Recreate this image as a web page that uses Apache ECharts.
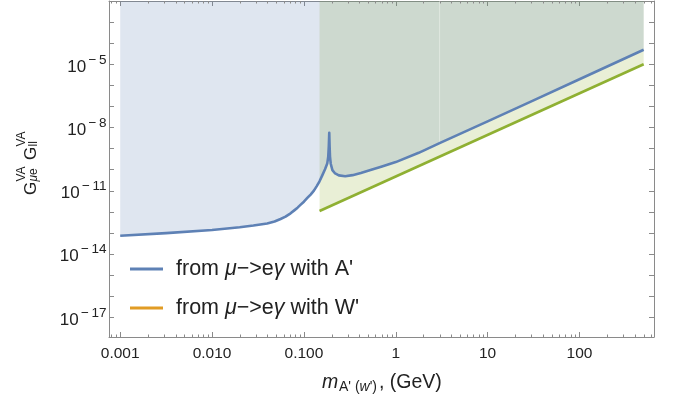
<!DOCTYPE html>
<html><head><meta charset="utf-8">
<script src="https://cdn.jsdelivr.net/npm/echarts@6/dist/echarts.min.js"></script>
<style>html,body{margin:0;padding:0;background:#fff}#c{width:673px;height:402px}</style>
</head><body><div id="c"></div>
<script>
// ---- data ----
const aMass = [0.001, 0.00316, 0.01, 0.02, 0.0282, 0.0398, 0.0479, 0.0557, 0.0631, 0.0716, 0.0785, 0.0853, 0.0923, 0.1, 0.1096, 0.1183, 0.1285, 0.138, 0.1479, 0.1585, 0.1698, 0.1795, 0.1841, 0.1866, 0.1888, 0.1905, 0.1923, 0.1959, 0.2042, 0.2188, 0.2399, 0.2818, 0.3388, 0.4169, 0.5309, 0.7079, 1, 1.778, 3.0, 10, 31.62, 100, 500];
const aCoupling = [7.41e-14, 9.77e-14, 1.38e-13, 1.86e-13, 2.24e-13, 2.82e-13, 3.47e-13, 4.57e-13, 5.89e-13, 8.51e-13, 1.175e-12, 1.585e-12, 2.19e-12, 3.02e-12, 4.68e-12, 6.61e-12, 1.02e-11, 1.66e-11, 2.82e-11, 5.37e-11, 1.05e-10, 1.95e-10, 4.17e-10, 1.26e-9, 5.62e-9, 1.26e-9, 4.17e-10, 1.91e-10, 9.55e-11, 6.61e-11, 5.37e-11, 4.90e-11, 5.50e-11, 6.92e-11, 9.55e-11, 1.41e-10, 2.29e-10, 6.31e-10, 1.82e-9, 1.95e-8, 1.95e-7, 1.95e-6, 4.9e-5];
const aFillSplitMass = 3.0; // the filled region of the reference shows a faint seam here
const wMass = [0.148, 500];
const wCoupling = [1.1e-12, 1.0e-5];
const seriesNames = ["from μ−>eγ with A'", "from μ−>eγ with W'"];
const xMajorTicks = [0.001, 0.01, 0.1, 1, 10, 100];
const xTickLabels = ['0.001', '0.010', '0.100', '1', '10', '100'];
const xMinorMantissa = [2, 3, 4, 5, 6, 7, 8, 9];
const xMinorDecades = [0.0001, 0.001, 0.01, 0.1, 1, 10, 100];
const yTicks = [1e-17, 1e-16, 1e-15, 1e-14, 1e-13, 1e-12, 1e-11, 1e-10, 1e-9, 1e-8, 1e-7, 1e-6, 1e-5, 1e-4, 1e-3];
const yLabelValues = [1e-17, 1e-14, 1e-11, 1e-8, 1e-5];
const yLabelExponents = ['17', '14', '11', '8', '5'];
const xRange = [0.000755, 648];
const yRange = [1.16e-18, 1e-2];

// ---- style ----
const FONT = 'Liberation Sans';
const frameColor = '#8a8a8a';
const textColor = '#222';
const blueLine = '#5e81b5';
const greenLine = '#8fb032';
const orangeLegend = '#e19c24';
const blueFill = 'rgba(94,129,181,0.2)';
const greenFill = 'rgba(143,176,50,0.2)';

const xMinorTicks = [];
xMinorDecades.forEach(d => xMinorMantissa.forEach(m => {
  const v = d * m;
  if (v > xRange[0] && v < xRange[1]) xMinorTicks.push(v);
}));

function near(a, b) { return Math.abs(Math.log10(a) - Math.log10(b)) < 1e-6; }

const lineCommon = { show: true, onZero: false, lineStyle: { color: frameColor, width: 1 } };
const tickCommon = { show: true, inside: true, length: 5, lineStyle: { color: frameColor, width: 1 } };

const chart = echarts.init(document.getElementById('c'), null, { renderer: 'canvas' });

function fillPolygon(api, ms, cs, fill) {
  const pts = ms.map((m, i) => api.coord([m, cs[i]]));
  pts.push(api.coord([ms[ms.length - 1], yRange[1]]));
  pts.push(api.coord([ms[0], yRange[1]]));
  return { type: 'polygon', shape: { points: pts }, style: { fill: fill } };
}

const option = {
  animation: false,
  backgroundColor: '#fff',
  grid: { left: 109, right: 19, top: 1, bottom: 65, containLabel: false },
  xAxis: [
    {
      type: 'log', logBase: 10, position: 'bottom', min: xRange[0], max: xRange[1],
      axisLine: lineCommon,
      axisTick: Object.assign({ customValues: xMajorTicks }, tickCommon),
      splitLine: { show: false },
      axisLabel: {
        show: true, margin: 9, color: textColor, fontFamily: FONT, fontSize: 15.5,
        customValues: xMajorTicks,
        formatter: v => { const i = xMajorTicks.findIndex(t => near(t, v)); return i >= 0 ? xTickLabels[i] : ''; }
      }
    },
    {
      type: 'log', logBase: 10, position: 'top', min: xRange[0], max: xRange[1],
      axisLine: lineCommon,
      axisTick: Object.assign({ customValues: xMajorTicks }, tickCommon),
      splitLine: { show: false },
      axisLabel: { show: false }
    }
  ],
  yAxis: [
    {
      type: 'log', logBase: 10, position: 'left', min: yRange[0], max: yRange[1],
      axisLine: lineCommon,
      axisTick: Object.assign({ customValues: yTicks }, tickCommon),
      splitLine: { show: false },
      axisLabel: {
        show: true, margin: 2.5, color: textColor, fontFamily: FONT,
        customValues: yLabelValues,
        formatter: v => {
          const i = yLabelValues.findIndex(t => near(t, v));
          return i < 0 ? '' : '{b|10}{m|−}{s|' + yLabelExponents[i] + '}';
        },
        rich: {
          b: { fontSize: 17, fontFamily: FONT, color: textColor, padding: [5.5, 0, 0, 0], verticalAlign: 'bottom' },
          m: { fontSize: 13.5, fontFamily: FONT, color: textColor, lineHeight: 13, verticalAlign: 'top', padding: [0, 2.5, 0, 2.5] },
          s: { fontSize: 13.5, fontFamily: FONT, color: textColor, lineHeight: 13, verticalAlign: 'top' }
        }
      }
    },
    {
      type: 'log', logBase: 10, position: 'right', min: yRange[0], max: yRange[1],
      axisLine: lineCommon,
      axisTick: Object.assign({ customValues: yTicks }, tickCommon),
      splitLine: { show: false },
      axisLabel: { show: false }
    }
  ],
  legend: {
    orient: 'vertical', left: 125, top: 253,
    itemWidth: 33, itemHeight: 3, itemGap: 17, icon: 'rect',
    textStyle: {
      fontSize: 21.5, fontFamily: FONT, color: textColor, padding: [0, 0, 0, 8],
      rich: { i: { fontSize: 21.5, fontFamily: FONT, fontStyle: 'italic', color: textColor } }
    },
    formatter: name => name.replace('μ', '{i|μ}').replace('γ', '{i|γ}'),
    data: [
      { name: seriesNames[0], itemStyle: { color: blueLine } },
      { name: seriesNames[1], itemStyle: { color: orangeLegend } }
    ]
  },
  graphic: [
    {
      type: 'group', x: 31, y: 195, rotation: Math.PI / 2, silent: true,
      children: [
        { type: 'text', x: 0, y: 0, style: { text: 'G', font: '17px "Liberation Sans"', fill: textColor, textVerticalAlign: 'middle' } },
        { type: 'text', x: 13.5, y: -9, style: { text: 'VA', font: '12px "Liberation Sans"', fill: textColor, textVerticalAlign: 'middle' } },
        { type: 'text', x: 13.5, y: 3, style: { text: '{i|μ}e', fill: textColor, textVerticalAlign: 'middle', font: '12px "Liberation Sans"', rich: { i: { fontStyle: 'italic', fontSize: 12, fontFamily: FONT } } } },
        { type: 'text', x: 35, y: 0, style: { text: 'G', font: '17px "Liberation Sans"', fill: textColor, textVerticalAlign: 'middle' } },
        { type: 'text', x: 48.5, y: -9, style: { text: 'VA', font: '12px "Liberation Sans"', fill: textColor, textVerticalAlign: 'middle' } },
        { type: 'text', x: 48.5, y: 3, style: { text: 'll', font: '12px "Liberation Sans"', fill: textColor, textVerticalAlign: 'middle' } }
      ]
    },
    {
      type: 'group', x: 322, y: 383, silent: true,
      children: [
        { type: 'text', x: 0, y: 0, style: { text: 'm', font: 'italic 19.5px "Liberation Sans"', fill: textColor, textVerticalAlign: 'middle' } },
        { type: 'text', x: 17, y: 4, style: { text: "A' ({i|w}')", font: '14px "Liberation Sans"', fill: textColor, textVerticalAlign: 'middle', rich: { i: { fontStyle: 'italic', fontSize: 14, fontFamily: FONT } } } },
        { type: 'text', x: 57, y: 0, style: { text: ', (GeV)', font: '19.5px "Liberation Sans"', fill: textColor, textVerticalAlign: 'middle' } }
      ]
    }
  ],
  series: [
    {
      type: 'custom', name: 'fillW', silent: true, z: 1, xAxisIndex: 0, yAxisIndex: 0,
      data: wMass.map((m, i) => [m, wCoupling[i]]), encode: { x: 0, y: 1 },
      renderItem: (params, api) => {
        if (params.dataIndex !== 0) return null;
        return fillPolygon(api, wMass, wCoupling, greenFill);
      }
    },
    {
      type: 'custom', name: 'fillA', silent: true, z: 2, xAxisIndex: 0, yAxisIndex: 0,
      data: aMass.map((m, i) => [m, aCoupling[i]]), encode: { x: 0, y: 1 },
      renderItem: (params, api) => {
        if (params.dataIndex !== 0) return null;
        const k = aMass.indexOf(aFillSplitMass);
        const seamBottom = api.coord([aMass[k], aCoupling[k]]);
        const seamTop = api.coord([aMass[k], yRange[1]]);
        return {
          type: 'group', children: [
            fillPolygon(api, aMass.slice(0, k + 1), aCoupling.slice(0, k + 1), blueFill),
            fillPolygon(api, aMass.slice(k), aCoupling.slice(k), blueFill),
            { type: 'line', shape: { x1: seamBottom[0], y1: seamBottom[1], x2: seamTop[0], y2: seamTop[1] },
              style: { stroke: 'rgba(255,255,255,0.35)', lineWidth: 1 } }
          ]
        };
      }
    },
    {
      type: 'line', name: seriesNames[1], z: 3, xAxisIndex: 0, yAxisIndex: 0,
      data: wMass.map((m, i) => [m, wCoupling[i]]),
      showSymbol: false, symbol: 'none',
      lineStyle: { color: greenLine, width: 2.6 }, itemStyle: { color: greenLine }
    },
    {
      type: 'line', name: seriesNames[0], z: 4, xAxisIndex: 0, yAxisIndex: 0,
      data: aMass.map((m, i) => [m, aCoupling[i]]),
      showSymbol: false, symbol: 'none',
      lineStyle: { color: blueLine, width: 2.6, join: 'round' }, itemStyle: { color: blueLine }
    },
    {
      type: 'custom', name: 'minorTicks', silent: true, z: 5, xAxisIndex: 0, yAxisIndex: 0,
      data: xMinorTicks.map(v => [v, yRange[1]]), encode: { x: 0, y: 1 },
      renderItem: (params, api) => {
        const cs = params.coordSys;
        const px = Math.round(api.coord([api.value(0), yRange[1]])[0]) + 0.5;
        const yb = cs.y + cs.height, yt = cs.y;
        return {
          type: 'group', children: [
            { type: 'line', shape: { x1: px, y1: yb, x2: px, y2: yb - 2.5 }, style: { stroke: frameColor, lineWidth: 1 } },
            { type: 'line', shape: { x1: px, y1: yt, x2: px, y2: yt + 2.5 }, style: { stroke: frameColor, lineWidth: 1 } }
          ]
        };
      }
    }
  ]
};
chart.setOption(option);
</script>
</body></html>
